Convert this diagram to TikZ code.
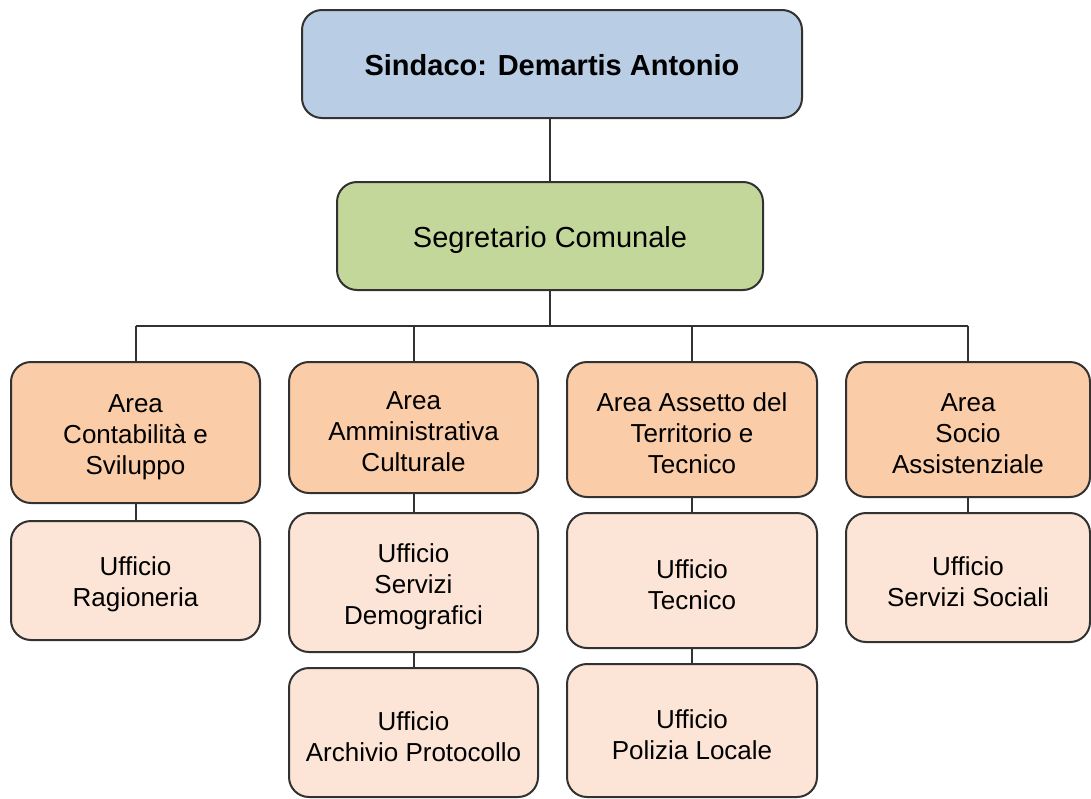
\documentclass[tikz,border=0pt]{standalone}
\usepackage{fontspec}
\setmainfont{Liberation Sans}
\definecolor{bluebox}{RGB}{185,205,229}
\definecolor{greenbox}{RGB}{196,215,155}
\definecolor{areabox}{RGB}{250,204,168}
\definecolor{uffbox}{RGB}{252,229,214}
\definecolor{edge}{RGB}{50,50,50}
\newcommand\lowr{\rule{0pt}{27pt}}
\newcommand\lowrbig{\rule{0pt}{29pt}}
\tikzset{
  box/.style={draw=edge, line width=2pt, rounded corners=20pt, align=center, inner sep=0pt, text=black},
  top/.style={box, fill=bluebox, font=\fontsize{29}{34}\selectfont\bfseries},
  segr/.style={box, fill=greenbox, font=\fontsize{29}{34}\selectfont},
  area/.style={box, fill=areabox, font=\fontsize{26}{31}\selectfont},
  uff/.style={box, fill=uffbox, font=\fontsize{26}{31}\selectfont},
  conn/.style={draw=edge, line width=2pt}
}
\begin{document}
\begin{tikzpicture}[x=1pt,y=-1pt]
\useasboundingbox[fill=white] (0,0) rectangle (1091,798);
\node[top, minimum width=500pt, minimum height=108pt] (sindaco) at (552,64) {\rule{0pt}{23pt}Sindaco: Demartis Antonio};
\node[segr, minimum width=426pt, minimum height=108pt] (segretario) at (550,236) {\lowrbig Segretario Comunale};

\node[area, minimum width=249pt, minimum height=141pt] (a1) at (135.5,432.5) {\lowr Area\\Contabilità e\\Sviluppo};
\node[area, minimum width=249pt, minimum height=131pt] (a2) at (413.5,427.5) {\lowr Area\\Amministrativa\\Culturale};
\node[area, minimum width=250pt, minimum height=135pt] (a3) at (692,429.5) {\lowr Area Assetto del\\Territorio e\\Tecnico};
\node[area, minimum width=244pt, minimum height=135pt] (a4) at (968,429.5) {\lowr Area\\Socio\\Assistenziale};

\node[uff, minimum width=249pt, minimum height=119pt] (u1) at (135.5,580.5) {\lowr Ufficio\\Ragioneria};
\node[uff, minimum width=249pt, minimum height=139pt] (u2a) at (413.5,582.5) {\lowr Ufficio\\Servizi\\Demografici};
\node[uff, minimum width=249pt, minimum height=129pt] (u2b) at (413.5,732.5) {\lowr Ufficio\\Archivio Protocollo};
\node[uff, minimum width=250pt, minimum height=135pt] (u3a) at (692,580.5) {\lowr Ufficio\\Tecnico};
\node[uff, minimum width=250pt, minimum height=133pt] (u3b) at (692,730.5) {\lowr Ufficio\\Polizia Locale};
\node[uff, minimum width=244pt, minimum height=129pt] (u4) at (968,577.5) {\lowr Ufficio\\Servizi Sociali};

\coordinate (bus) at (550,326);
\draw[conn] (sindaco.south -| segretario.north) -- (segretario.north);
\draw[conn] (segretario.south) -- (bus);
\draw[conn] (a1.north |- bus) -- (a4.north |- bus);
\foreach \n in {a1,a2,a3,a4}{
  \draw[conn] (\n.north) -- (\n.north |- bus);
}
\draw[conn] (a1.south) -- (u1.north);
\draw[conn] (a2.south) -- (u2a.north);
\draw[conn] (u2a.south) -- (u2b.north);
\draw[conn] (a3.south) -- (u3a.north);
\draw[conn] (u3a.south) -- (u3b.north);
\draw[conn] (a4.south) -- (u4.north);
\end{tikzpicture}
\end{document}
